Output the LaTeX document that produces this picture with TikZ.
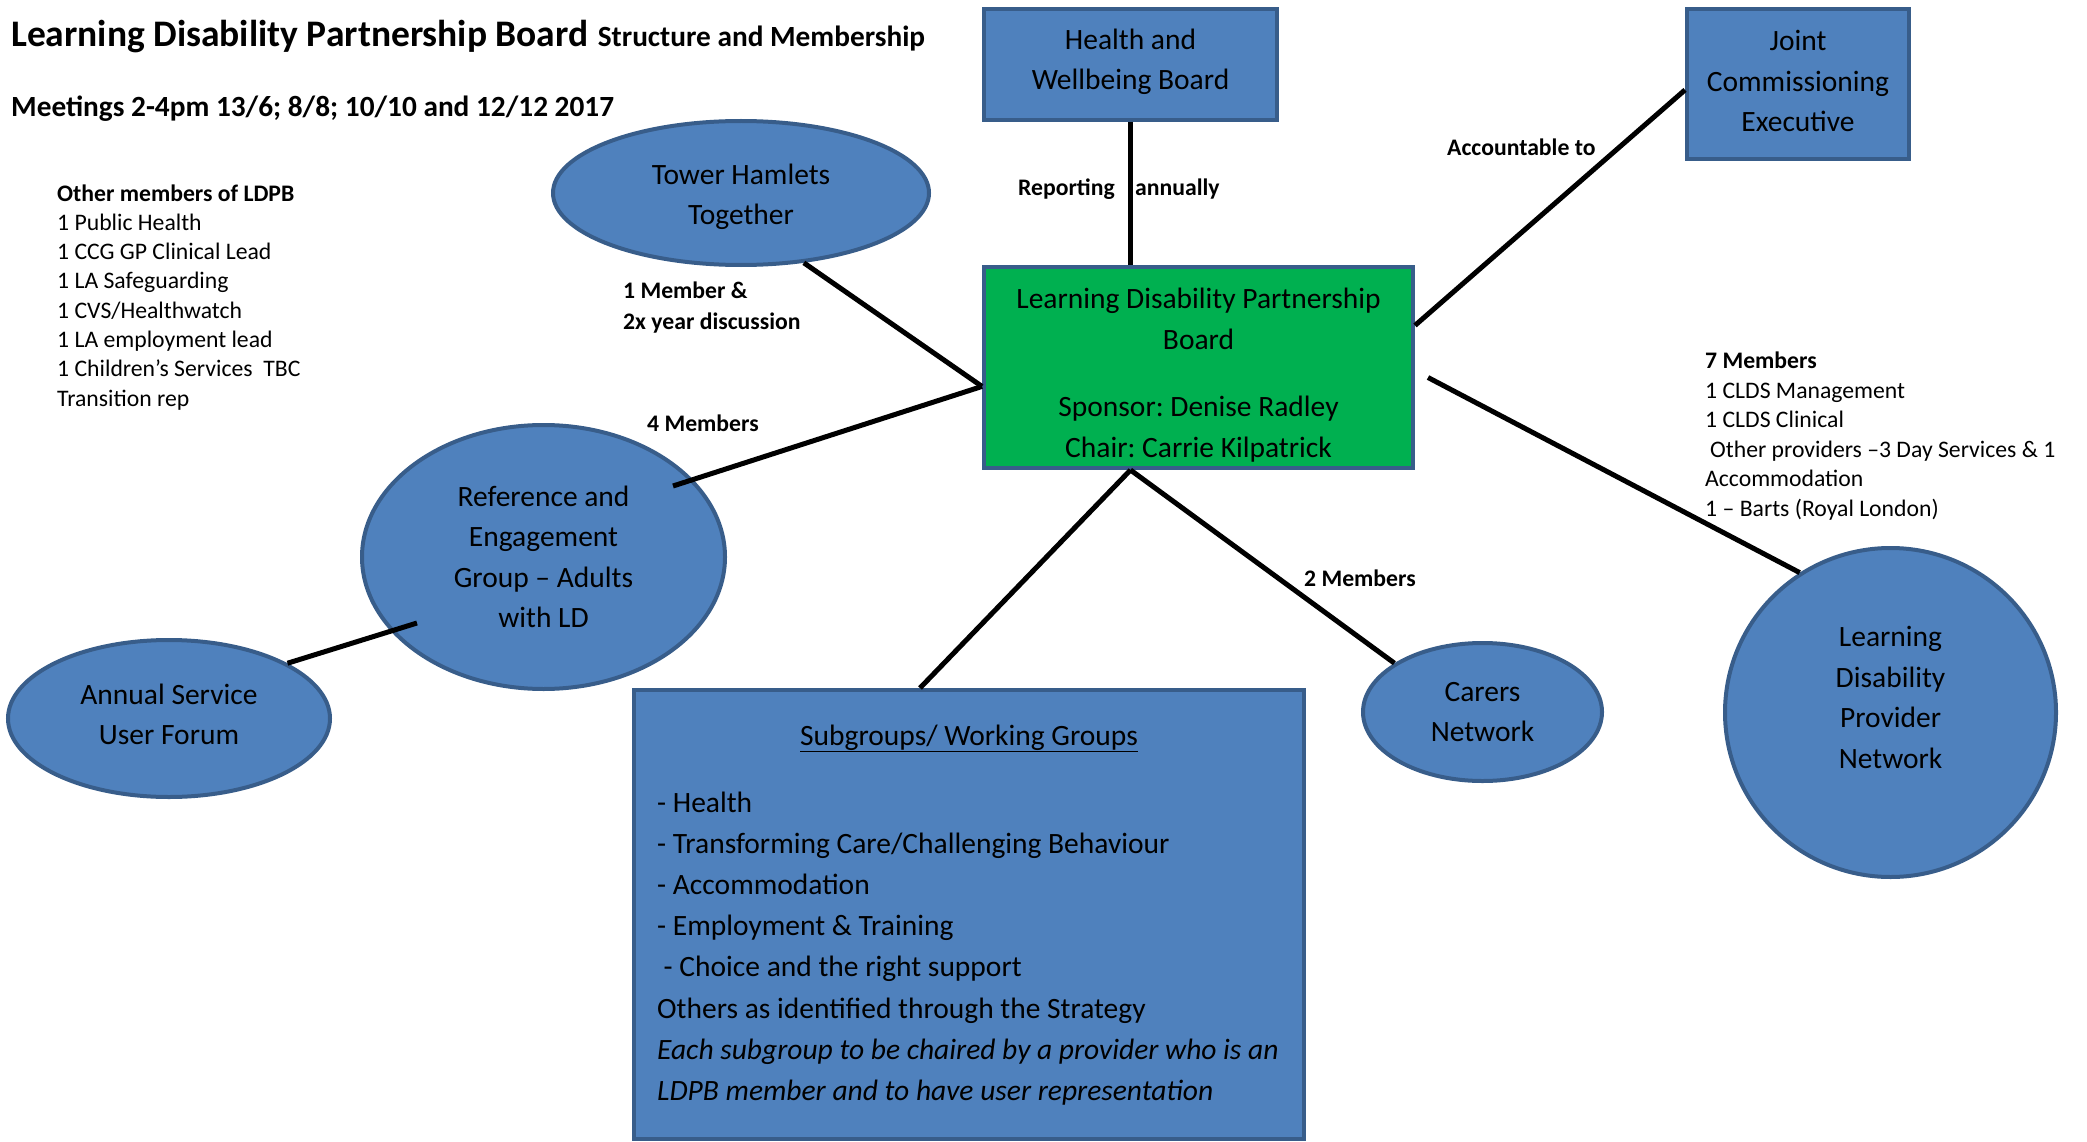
\documentclass[tikz,border=0pt]{standalone}
\usepackage{fontspec}
\setmainfont{Carlito}
\usetikzlibrary{shapes.geometric,calc}
\frenchspacing

\definecolor{boxblue}{HTML}{4F81BD}
\definecolor{edgeblue}{HTML}{385D8A}
\definecolor{boardgreen}{HTML}{00B050}

\tikzset{
  bluebox/.style={draw=edgeblue, fill=boxblue, line width=4pt, align=center, inner sep=0pt, font=\fontsize{29.5}{40.5}\selectfont},
  greenbox/.style={bluebox, fill=boardgreen},
  blueoval/.style={ellipse, bluebox},
  link/.style={line width=5pt, black},
  smalltext/.style={font=\fontsize{23.7}{29.3}\selectfont, inner sep=0pt, anchor=base west},
  smallbold/.style={smalltext, font=\fontsize{23.7}{29.3}\selectfont\bfseries},
  boxtext/.style={font=\fontsize{29.5}{40.5}\selectfont, inner sep=0pt, anchor=base west}
}

\begin{document}
\begin{tikzpicture}[x=1pt, y=-1pt]

    \useasboundingbox (0,0) rectangle (2087,1142);

    % Title and meeting dates
    \node[anchor=base west, inner sep=0pt, font=\bfseries] (title) at (11,46.5)
        {\fontsize{37.5}{44}\selectfont Learning Disability Partnership Board\fontsize{29.3}{35}\selectfont\hspace{9.5pt}Structure and Membership};
    \node[anchor=base west, inner sep=0pt, font=\bfseries\fontsize{29.3}{35}\selectfont] (dates) at (11,117)
        {Meetings 2-4pm 13/6; 8/8; 10/10 and 12/12 2017};

    % Boards
    \node[bluebox, minimum width=293pt, minimum height=111pt, text depth=10pt] (hwb) at (1130.5,64.5) {Health and\\Wellbeing Board};
    \node[bluebox, minimum width=222pt, minimum height=150pt, text depth=6pt] (jce) at (1798,84) {Joint\\Commissioning\\Executive};
    \node[greenbox, minimum width=429pt, minimum height=201pt] (ldpb) at (1198.5,367.5)
        {\rule{0pt}{36pt}Learning Disability Partnership\\Board\\[27pt]Sponsor: Denise Radley\\Chair: Carrie Kilpatrick};

    % Groups and networks
    \node[blueoval, minimum width=376pt, minimum height=144pt] (th) at (741,193) {\rule{0pt}{28pt}Tower Hamlets\\Together};
    \node[blueoval, minimum width=363pt, minimum height=264pt] (ref) at (543.5,557) {Reference and\\Engagement\\Group – Adults\\with LD};
    \node[blueoval, minimum width=322pt, minimum height=157pt, text depth=8pt] (annual) at (169,718.5) {Annual Service\\User Forum};
    \node[blueoval, minimum width=239pt, minimum height=138pt] (carers) at (1482.5,712) {Carers\\Network};
    \node[blueoval, minimum width=331pt, minimum height=329pt, text depth=30pt] (ldpn) at (1890.5,712.5) {Learning\\Disability\\Provider\\Network};
    \node[bluebox, minimum width=670pt, minimum height=449pt] (sub) at (969,914.5) {};

    % Free ends of the connectors
    \coordinate (refne) at (673,486);
    \coordinate (refsw) at (417,623);
    \coordinate (ldpbs) at (hwb.south |- ldpb.south);
    \coordinate (ldpbe) at ($(ldpb.east)+(13,10)$);
    \coordinate (subn) at ($(sub.north)+(-49,0)$);

    % Connectors
    \draw[link] (hwb.south) -- (hwb.south |- ldpb.north);
    \draw[link] (jce.183) -- (ldpb.11);
    \draw[link] (th.-48) -- (ldpb.185);
    \draw[link] (refne) -- (ldpb.185);
    \draw[link] (annual.25) -- (refsw);
    \draw[link] (ldpbs) -- (subn);
    \draw[link] (ldpbs) -- (carers.151);
    \draw[link] (ldpbe) -- (ldpn.123);

    % Connector labels
    \node[smallbold, anchor=base east] at (1115,196) {Reporting};
    \node[smallbold] at (1135,196) {annually};
    \node[smallbold] at (1447,156) {Accountable to};
    \node[smallbold] at (623,298) {1 Member \&};
    \node[smallbold] at (623,329) {2x year discussion};
    \node[smallbold] at (647,431) {4 Members};
    \node[smallbold] at (1304,586) {2 Members};

    % Other members list
    \node[smallbold] at (57,201) {Other members of LDPB};
    \foreach \txt [count=\i] in {1 Public Health, 1 CCG GP Clinical Lead, 1 LA Safeguarding,
        1 CVS/Healthwatch, 1 LA employment lead, {1 Children’s Services\ \ TBC}, Transition rep}
        \node[smalltext] at (57,201+29.3*\i) {\txt};

    % Provider members list
    \node[smallbold] at (1705,368.5) {7 Members};
    \foreach \txt [count=\i] in {1 CLDS Management, 1 CLDS Clinical,
        {\hspace{5pt}Other providers –3 Day Services \& 1}, Accommodation, 1 – Barts (Royal London)}
        \node[smalltext] at (1705,368.5+29.5*\i) {\txt};

    % Subgroups text
    \node[boxtext, anchor=base] at (969,745) {\underline{Subgroups/ Working Groups}};
    \foreach \txt [count=\i from 0] in {- Health, - Transforming Care/Challenging Behaviour,
        - Accommodation, - Employment \& Training, {\hspace{6.5pt}- Choice and the right support},
        Others as identified through the Strategy,
        {\itshape Each subgroup to be chaired by a provider who is an},
        {\itshape LDPB member and to have user representation}}
        \node[boxtext] at (657,812+41.2*\i) {\txt};

\end{tikzpicture}
\end{document}
